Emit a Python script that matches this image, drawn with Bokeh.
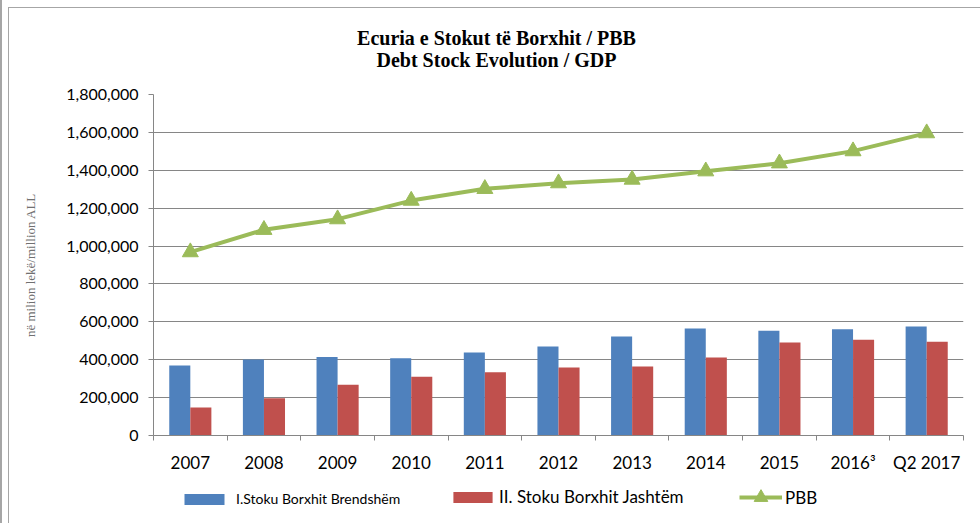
from bokeh.plotting import figure
from bokeh.layouts import column
from bokeh.models import (FixedTicker, Legend, LegendItem, Label, ColumnDataSource,
                          NumeralTickFormatter, Range1d)
from bokeh.transform import dodge
from bokeh.embed import file_html
from bokeh.resources import INLINE

categories = ["2007", "2008", "2009", "2010", "2011", "2012", "2013", "2014", "2015", "2016\u00b3", "Q2 2017"]
domestic = [369000, 401000, 415000, 408000, 438000, 470000, 523000, 565000, 553000, 561000, 575000]
external = [148000, 197000, 268000, 310000, 334000, 359000, 364000, 412000, 491000, 505000, 495000]
gdp = [968000, 1086000, 1142000, 1240000, 1302000, 1332000, 1351000, 1395000, 1437000, 1501000, 1596000]
y_ticks = [0, 200000, 400000, 600000, 800000, 1000000, 1200000, 1400000, 1600000, 1800000]

title_1 = "Ecuria e Stokut t\u00eb Borxhit / PBB"
title_2 = "Debt Stock Evolution / GDP"
y_label = "n\u00eb milion lek\u00eb/million ALL"
name_dom = "I.Stoku Borxhit Brendsh\u00ebm"
name_ext = "II. Stoku Borxhit Jasht\u00ebm"
name_gdp = "PBB"

BLUE = "#4F81BD"
RED = "#C0504D"
GREEN = "#9BBB59"
GRAY = "#868686"
FRAME = "#a6a6a6"

W = 980
FL = 153  # left edge of the (column-aligned) plot frames
xs = [i + 0.5 for i in range(len(categories))]
src = ColumnDataSource(dict(x=xs, dom=domestic, ext=external, gdp=gdp))


def frame_bg(top_line):
    parts = ["linear-gradient({c},{c}) 8px 7px / 1px 100% no-repeat" if top_line
             else "linear-gradient({c},{c}) 8px 0px / 1px 100% no-repeat",
             "linear-gradient({c},{c}) 0px 0px / 2px 100% no-repeat"]
    if top_line:
        parts.append("linear-gradient({c},{c}) 8px 7px / 100% 1px no-repeat")
    parts.append("white")
    return ", ".join(parts).format(c=FRAME)


def blank_fig(h, top_line=False):
    f = figure(width=W, height=h, x_range=Range1d(0, 1), y_range=Range1d(0, 1),
               output_backend="svg", toolbar_location=None,
               x_axis_location=None, y_axis_location=None,
               min_border=0, min_border_left=0, min_border_right=0,
               min_border_top=0, min_border_bottom=0,
               styles={"background": frame_bg(top_line)})
    f.grid.visible = False
    f.outline_line_color = None
    f.background_fill_alpha = 0
    f.border_fill_alpha = 0
    return f


# ---------------- header (titles) ----------------
head = blank_fig(80, top_line=True)
for txt, yy in [(title_1, 43), (title_2, 21)]:
    head.add_layout(Label(x=496 - FL, y=yy, x_units="screen", y_units="screen", text=txt,
                          text_align="center", text_baseline="middle",
                          text_font="Liberation Serif", text_font_style="bold",
                          text_font_size="20px", text_color="black"))

# ---------------- main chart ----------------
p = figure(width=W, height=398, x_range=(0, len(categories)), y_range=(0, 1800000),
           output_backend="svg", toolbar_location=None,
           min_border_left=FL, min_border_right=17, min_border_top=14, min_border_bottom=43,
           styles={"background": frame_bg(False)})
p.outline_line_color = None
p.background_fill_color = "white"
p.border_fill_alpha = 0

p.xaxis.ticker = FixedTicker(ticks=xs, minor_ticks=list(range(len(categories) + 1)))
p.xaxis.major_label_overrides = {x: c for x, c in zip(xs, categories)}
p.xaxis.major_tick_line_color = None
p.xaxis.minor_tick_line_color = GRAY
p.xaxis.minor_tick_out = 5
p.xaxis.minor_tick_in = 0
p.xaxis.axis_line_color = GRAY
p.xaxis.major_label_text_font = "Lato"
p.xaxis.major_label_text_font_size = "17px"
p.xaxis.major_label_text_color = "black"
p.xaxis.major_label_standoff = 10

p.yaxis.ticker = FixedTicker(ticks=y_ticks, minor_ticks=[])
p.yaxis.formatter = NumeralTickFormatter(format="0,0")
p.yaxis.major_tick_line_color = GRAY
p.yaxis.major_tick_out = 5
p.yaxis.major_tick_in = 0
p.yaxis.axis_line_color = GRAY
p.yaxis.major_label_text_font = "Lato"
p.yaxis.major_label_text_font_size = "16px"
p.yaxis.major_label_text_color = "black"
p.yaxis.major_label_standoff = 10
p.yaxis.axis_label = y_label
p.yaxis.axis_label_text_font = "Liberation Serif"
p.yaxis.axis_label_text_font_style = "normal"
p.yaxis.axis_label_text_font_size = "13px"
p.yaxis.axis_label_text_color = "#707070"
p.yaxis.axis_label_standoff = 25

p.xgrid.visible = False
p.ygrid.grid_line_color = GRAY
p.ygrid.grid_line_width = 1

p.vbar(x=dodge("x", -0.143, range=p.x_range), top="dom", width=0.286, source=src,
       fill_color=BLUE, line_color=None)
p.vbar(x=dodge("x", 0.143, range=p.x_range), top="ext", width=0.286, source=src,
       fill_color=RED, line_color=None)
p.line("x", "gdp", source=src, line_color=GREEN, line_width=4)
p.scatter("x", "gdp", source=src, marker="triangle", size=16, fill_color=GREEN, line_color=GREEN)

# ---------------- legend strip ----------------
leg = blank_fig(45)
# key renderers: a single point placed outside the strip's visible range
key = ColumnDataSource(dict(x=[-5], y=[0]))
k_dom = leg.vbar(x="x", top="y", width=0.1, source=key, fill_color=BLUE, line_color=None)
k_ext = leg.vbar(x="x", top="y", width=0.1, source=key, fill_color=RED, line_color=None)
k_line = leg.line("x", "y", source=key, line_color=GREEN, line_width=4)
k_mark = leg.scatter("x", "y", source=key, marker="triangle", fill_color=GREEN, line_color=GREEN)


def add_legend(item, loc, gw, gh, standoff, fsize):
    lg = Legend(items=[item], location=(loc[0] - FL, loc[1]), orientation="horizontal",
                glyph_width=gw, glyph_height=gh, label_standoff=standoff,
                label_text_font="Lato", label_text_font_size=fsize, label_text_color="black",
                padding=0, margin=0, spacing=0, border_line_color=None,
                background_fill_alpha=0)
    leg.add_layout(lg, "center")


add_legend(LegendItem(label=name_dom, renderers=[k_dom]), (179, 16), 50, 14, 7, "14px")
add_legend(LegendItem(label=name_ext, renderers=[k_ext]), (448, 16), 49, 14, 2, "17px")
add_legend(LegendItem(label=name_gdp, renderers=[k_line, k_mark]), (739, 9), 43, 34, 3, "17px")

layout = column(head, p, leg, spacing=0)
open("out.html", "w").write(file_html(layout, INLINE))
